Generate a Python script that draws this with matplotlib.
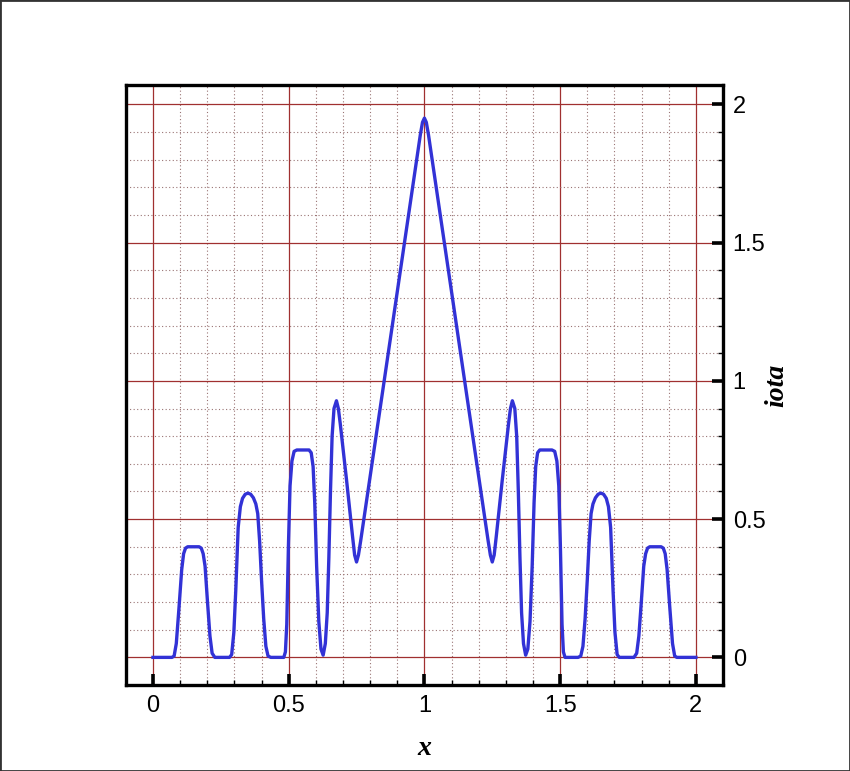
import matplotlib
matplotlib.use("Agg")
import matplotlib.pyplot as plt
from matplotlib.ticker import MultipleLocator, FuncFormatter
from matplotlib.patches import Rectangle

# --- curve (x, iota) ---
x_vals = [
    0.000, 0.070, 0.078, 0.086, 0.096, 0.106, 0.113, 0.120, 0.128, 0.170,
    0.178, 0.185, 0.192, 0.201, 0.210, 0.218, 0.228, 0.282, 0.290, 0.298,
    0.305, 0.314, 0.322, 0.330, 0.340, 0.350, 0.360, 0.370, 0.379, 0.386,
    0.393, 0.400, 0.408, 0.416, 0.424, 0.434, 0.482, 0.488, 0.493, 0.499,
    0.505, 0.512, 0.520, 0.530, 0.575, 0.583, 0.590, 0.596, 0.603, 0.611,
    0.619, 0.627, 0.635, 0.642, 0.648, 0.654, 0.660, 0.667, 0.676, 0.683,
    0.690, 0.713, 0.735, 0.743, 0.750, 0.757, 0.765, 0.985, 0.993, 1.000,
    1.007, 1.015, 1.235, 1.243, 1.250, 1.257, 1.265, 1.287, 1.310, 1.317,
    1.324, 1.333, 1.340, 1.346, 1.352, 1.358, 1.365, 1.373, 1.381, 1.389,
    1.397, 1.404, 1.410, 1.417, 1.425, 1.470, 1.480, 1.488, 1.495, 1.501,
    1.507, 1.512, 1.518, 1.566, 1.576, 1.584, 1.592, 1.600, 1.607, 1.614,
    1.621, 1.630, 1.640, 1.650, 1.660, 1.670, 1.678, 1.686, 1.695, 1.702,
    1.710, 1.718, 1.772, 1.782, 1.790, 1.799, 1.808, 1.815, 1.822, 1.830,
    1.872, 1.880, 1.887, 1.894, 1.904, 1.914, 1.922, 1.930, 2.000,
]
iota_vals = [
    0.000, 0.000, 0.005, 0.050, 0.180, 0.318, 0.375, 0.395, 0.400, 0.400,
    0.395, 0.375, 0.330, 0.200, 0.077, 0.015, 0.000, 0.000, 0.010, 0.090,
    0.240, 0.470, 0.545, 0.575, 0.590, 0.594, 0.590, 0.577, 0.555, 0.520,
    0.420, 0.280, 0.140, 0.040, 0.005, 0.000, 0.000, 0.020, 0.120, 0.400,
    0.620, 0.710, 0.745, 0.750, 0.750, 0.740, 0.690, 0.560, 0.330, 0.130,
    0.030, 0.008, 0.050, 0.161, 0.360, 0.600, 0.800, 0.900, 0.928, 0.900,
    0.845, 0.643, 0.440, 0.370, 0.345, 0.370, 0.420, 1.890, 1.935, 1.950,
    1.935, 1.890, 0.420, 0.370, 0.345, 0.370, 0.440, 0.643, 0.845, 0.900,
    0.928, 0.900, 0.800, 0.600, 0.360, 0.161, 0.050, 0.008, 0.030, 0.130,
    0.330, 0.560, 0.690, 0.740, 0.750, 0.750, 0.745, 0.710, 0.620, 0.400,
    0.120, 0.020, 0.000, 0.000, 0.005, 0.040, 0.140, 0.280, 0.420, 0.520,
    0.555, 0.577, 0.590, 0.594, 0.590, 0.575, 0.545, 0.470, 0.240, 0.090,
    0.010, 0.000, 0.000, 0.015, 0.077, 0.200, 0.330, 0.375, 0.395, 0.400,
    0.400, 0.395, 0.375, 0.318, 0.180, 0.050, 0.005, 0.000, 0.000,
]

x_ticks = [0, 0.5, 1, 1.5, 2]
y_ticks = [0, 0.5, 1, 1.5, 2]

fig = plt.figure(figsize=(8.5, 7.71), dpi=100)
ax = fig.add_axes([0.148, 0.1115, 0.7026, 0.7783])

ax.plot(x_vals, iota_vals, color='#3232d6', linewidth=2.4, zorder=3)

ax.set_xlim(-0.1, 2.1)
ax.set_ylim(-0.1, 2.07)

ax.xaxis.set_major_locator(plt.FixedLocator(x_ticks))
ax.yaxis.set_major_locator(plt.FixedLocator(y_ticks))
ax.xaxis.set_minor_locator(MultipleLocator(0.1))
ax.yaxis.set_minor_locator(MultipleLocator(0.1))
fmt = FuncFormatter(lambda v, p: f'{v:g}')
ax.xaxis.set_major_formatter(fmt)
ax.yaxis.set_major_formatter(fmt)

# y axis on the right, ticks pointing inward
ax.yaxis.tick_right()
ax.yaxis.set_label_position('right')
ax.tick_params(axis='both', which='major', direction='in', length=8, width=2.6,
               labelsize=17, pad=7, colors='black')
ax.tick_params(axis='both', which='minor', direction='in', length=3.8, width=1.0)
ax.tick_params(axis='x', which='both', top=False, bottom=True)
ax.tick_params(axis='y', which='both', left=False, right=True)
for lab in ax.get_xticklabels() + ax.get_yticklabels():
    lab.set_fontfamily('Liberation Sans')

ax.grid(True, which='major', color='#a03030', linewidth=0.9, linestyle='-', zorder=1)
ax.grid(True, which='minor', color='#9a7474', linewidth=0.8, linestyle=(0, (1, 2.2)), zorder=1)
ax.set_axisbelow(True)

for s in ax.spines.values():
    s.set_linewidth(2.4)
    s.set_color('black')

ax.set_xlabel('x', fontsize=20, fontfamily='Liberation Serif', fontweight='bold',
              fontstyle='italic', labelpad=14)
ax.set_ylabel('iota', fontsize=20, fontfamily='Liberation Serif', fontweight='bold',
              fontstyle='italic', labelpad=-1, rotation=90)

# thin frame around the whole picture
fig.add_artist(Rectangle((0, 0), 1, 1, transform=fig.transFigure, fill=False,
                         edgecolor='#333333', linewidth=2))

fig.savefig('out.png', dpi=100)
